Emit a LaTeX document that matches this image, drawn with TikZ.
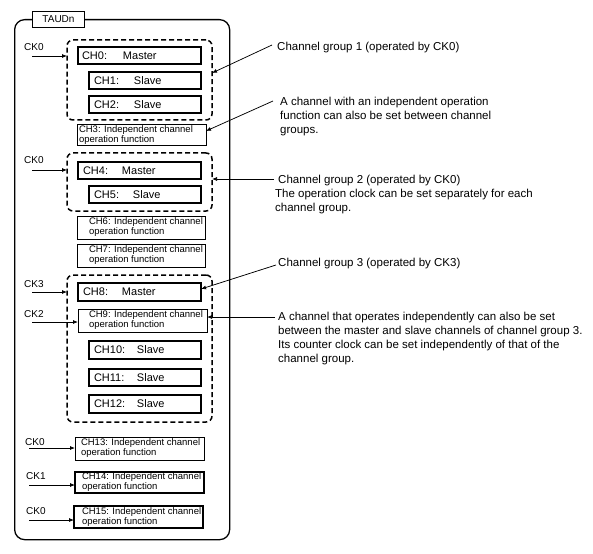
\documentclass[tikz,border=0pt]{standalone}
\usepackage{fontspec}
\setmainfont{Liberation Sans}
\usetikzlibrary{arrows.meta}
\newcommand{\chlab}[5]{\makebox[#1pt][l]{\hspace*{#2pt}\makebox[#3pt][l]{#4}#5}}
\newcommand{\indtxt}[3]{\makebox[#1pt][l]{\hspace*{#2pt}\parbox{\dimexpr#1pt-#2pt\relax}{\raggedright #3}}}
\begin{document}
\begin{tikzpicture}[x=1pt,y=-1pt,
  box/.style={draw, anchor=north west, inner sep=0pt, outer sep=0pt},
  thickbox/.style={box, line width=2.3pt, font=\fontsize{11}{13}\selectfont},
  thinbox/.style={box, line width=1pt, font=\fontsize{9.5}{10}\selectfont},
  midbox/.style={box, line width=1.5pt, font=\fontsize{9.5}{10}\selectfont},
  group/.style={draw, anchor=north west, dash pattern=on 5pt off 3pt, line width=1.5pt, rounded corners=6pt, inner sep=0pt, outer sep=0pt},
  cklab/.style={anchor=base west, inner sep=0pt, font=\fontsize{10}{12}\selectfont},
  ann/.style={anchor=north west, inner sep=0pt, align=left, font=\fontsize{11.5}{14}\selectfont},
  arr/.style={-{Latex[length=5pt,width=4pt]}, line width=0.75pt}]

\useasboundingbox (0,0) rectangle (593,553);

% outer block
\node[draw, anchor=north west, minimum width=215pt, minimum height=520pt, rounded corners=10pt, line width=1.3pt, inner sep=0pt] (taud) at (14,19) {};
\node[draw, fill=white, anchor=north west, minimum width=52pt, minimum height=16pt, line width=1pt, inner sep=0pt, font=\fontsize{10}{11}\selectfont] (title) at (32,11) {TAUDn};

% groups
\node[group, minimum width=145pt, minimum height=80pt] (g1) at (67,40) {};
\node[group, minimum width=145pt, minimum height=58pt] (g2) at (67,153) {};
\node[group, minimum width=145pt, minimum height=147pt] (g3) at (67,275) {};

% channels
\node[thickbox, minimum height=17pt] (ch0) at (78,47) {\chlab{123}{4}{41}{CH0:}{Master}};
\node[thickbox, minimum height=17pt] (ch1) at (89,72) {\chlab{112}{5}{40}{CH1:}{Slave}};
\node[thickbox, minimum height=17pt] (ch2) at (89,96) {\chlab{112}{5}{40}{CH2:}{Slave}};
\node[thinbox, minimum height=21pt] (ch3) at (77,125) {\indtxt{129}{2}{CH3: Independent channel\\operation function}};
\node[thickbox, minimum height=17pt] (ch4) at (78,162) {\chlab{123}{5}{39}{CH4:}{Master}};
\node[thickbox, minimum height=17pt] (ch5) at (89,186) {\chlab{112}{5}{39}{CH5:}{Slave}};
\node[thinbox, minimum height=23pt] (ch6) at (77,216) {\indtxt{128}{12}{CH6: Independent channel\\operation function}};
\node[thinbox, minimum height=23pt] (ch7) at (77,244) {\indtxt{128}{12}{CH7: Independent channel\\operation function}};
\node[thickbox, minimum height=18pt] (ch8) at (78,283) {\chlab{123}{5}{39}{CH8:}{Master}};
\node[thinbox, minimum height=23pt] (ch9) at (78,309) {\indtxt{129}{11}{CH9: Independent channel\\operation function}};
\node[thickbox, minimum height=18pt] (ch10) at (89,341) {\chlab{112}{5}{43}{CH10:}{Slave}};
\node[thickbox, minimum height=17pt] (ch11) at (89,369) {\chlab{112}{5}{43}{CH11:}{Slave}};
\node[thickbox, minimum height=18pt] (ch12) at (89,395) {\chlab{112}{5}{43}{CH12:}{Slave}};
\node[thinbox, minimum height=23pt] (ch13) at (75,437) {\indtxt{129}{6}{CH13: Independent channel\\operation function}};
\node[midbox, minimum height=21pt] (ch14) at (75,472) {\indtxt{129}{7}{CH14: Independent channel\\operation function}};
\node[midbox, minimum height=22pt] (ch15) at (74,506) {\indtxt{129}{8}{CH15: Independent channel\\operation function}};

% clock inputs
\node[cklab] (k1) at (24,51) {CK0};
\node[cklab] (k2) at (24,164) {CK0};
\node[cklab] (k3) at (24,287) {CK3};
\node[cklab] (k4) at (24,317) {CK2};
\node[cklab] (k5) at (25,445) {CK0};
\node[cklab] (k6) at (26,479) {CK1};
\node[cklab] (k7) at (26,514) {CK0};
\coordinate (c1) at (32,56);
\coordinate (c2) at (32,170);
\coordinate (c3) at (32,292);
\coordinate (c4) at (32,322);
\coordinate (c5) at (29,448);
\coordinate (c6) at (29,485);
\coordinate (c7) at (29,520);
\draw[arr] (c1) -- (c1 -| g1.west);
\draw[arr] (c2) -- (c2 -| g2.west);
\draw[arr] (c3) -- (c3 -| g3.west);
\draw[arr] (c4) -- (c4 -| ch9.west);
\draw[arr] (c5) -- (c5 -| ch13.west);
\draw[arr] (c6) -- (c6 -| ch14.west);
\draw[arr] (c7) -- (c7 -| ch15.west);

% annotations
\node[ann] (a1) at (277,42) {Channel group 1 (operated by CK0)};
\node[ann] (a2) at (280,97) {A channel with an independent operation\\function can also be set between channel\\groups.};
\node[ann] (a3) at (278,175) {Channel group 2 (operated by CK0)};
\node[ann] (a3b) at (275,189) {The operation clock can be set separately for each\\channel group.};
\node[ann] (a4) at (278,258) {Channel group 3 (operated by CK3)};
\node[ann] (a5) at (278,312) {A channel that operates independently can also be set\\between the master and slave channels of channel group 3.\\Its counter clock can be set independently of that of the\\channel group.};

\coordinate (s1) at (272,45);
\coordinate (s2) at (273,101);
\coordinate (s3) at (274,179);
\coordinate (s4) at (276,265);
\coordinate (s5) at (275,317);
\draw[arr] (s1) -- (g1.east |- 0,73);
\draw[arr] (s2) -- (ch3.east |- 0,131);
\draw[arr] (s3) -- (s3 -| g2.east);
\draw[arr] (s4) -- (ch8.east |- 0,289);
\draw[arr] (s5) -- (s5 -| ch9.east);
\end{tikzpicture}
\end{document}
